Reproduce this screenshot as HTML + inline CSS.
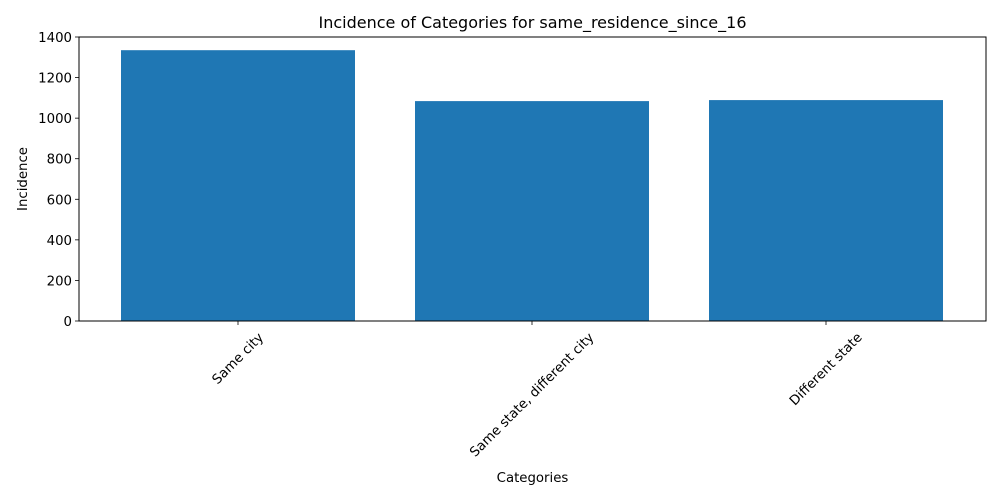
<!DOCTYPE html>
<html><head><meta charset="utf-8"><style>
body{margin:0;background:#fff;}
svg{display:block;font-family:"DejaVu Sans","Liberation Sans",sans-serif;}
</style></head><body>
<svg id="chart" width="1000" height="500"></svg>
<script>
const categories = ["Same city", "Same state, different city", "Different state"];
const values = [1335, 1084, 1089];
const yTicks = [0, 200, 400, 600, 800, 1000, 1200, 1400];

const NS = "http://www.w3.org/2000/svg";
const svg = document.getElementById("chart");
const L = 79, R = 986, T = 37, B = 321;
const yMax = 1400;
function y(v){ return B - (v / yMax) * (B - T); }
function xc(i){ return 238 + 294 * i; }
const bw = 234;
function mk(tag, attrs, parent){
  const e = document.createElementNS(NS, tag);
  for (const k in attrs) e.setAttribute(k, attrs[k]);
  (parent || svg).appendChild(e);
  return e;
}
categories.forEach((c, i) => {
  const r = mk("rect", {x: xc(i) - bw/2, y: y(values[i]), width: bw, height: B - y(values[i]), fill: "#1f77b4"});
  
  
  mk("line", {x1: xc(i), x2: xc(i), y1: B, y2: B + 4, stroke: "#000", "stroke-width": 0.8});
  const t = mk("text", {x: 0, y: 4, "font-size": 13.3, "text-anchor": "middle"});
  t.textContent = c;
  
  
  const len = t.getComputedTextLength();
  const cy = B + 9 + (len + 15) * 0.707 / 2;
  t.setAttribute("transform", `translate(${xc(i)},${cy}) rotate(-45)`);
});
yTicks.forEach(v => {
  mk("line", {x1: L - 4, x2: L, y1: y(v), y2: y(v), stroke: "#000", "stroke-width": 0.8});
  const t = mk("text", {x: L - 7, y: y(v) + 5, "font-size": 13.3, "text-anchor": "end"});
  t.textContent = v;
  
  
});
const frame = mk("rect", {x: L, y: T, width: R - L, height: B - T, fill: "none", stroke: "#000", "stroke-width": 1});


const title = mk("text", {x: (L + R) / 2, y: 28, "font-size": 16, "text-anchor": "middle"});
title.textContent = "Incidence of Categories for same_residence_since_16";


const xl = mk("text", {x: (L + R) / 2, y: 482, "font-size": 13.3, "text-anchor": "middle"});
xl.textContent = "Categories";


const yl = mk("text", {x: 0, y: 0, "font-size": 13.3, "text-anchor": "middle", transform: `translate(27,${(T + B) / 2}) rotate(-90)`});
yl.textContent = "Incidence";


</script>
</body></html>
